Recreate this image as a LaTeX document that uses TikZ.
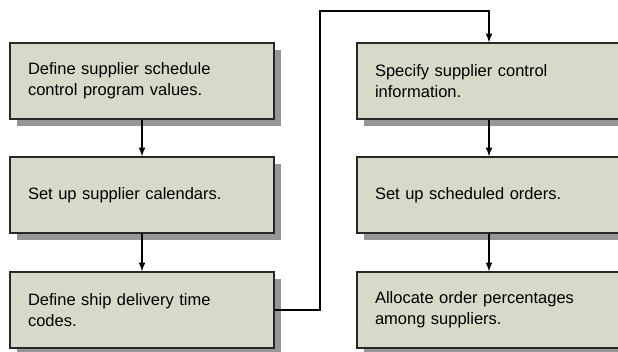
\documentclass[tikz,border=0pt]{standalone}
\usepackage{fontspec}
\setmainfont{Liberation Sans}
\usetikzlibrary{arrows,shadows}
\definecolor{boxfill}{RGB}{216,217,200}
\definecolor{boxline}{RGB}{40,40,40}
\definecolor{shade}{RGB}{150,150,150}
\tikzset{
  stepbox/.style={draw=boxline, line width=1.3pt, fill=boxfill,
    minimum width=264pt, minimum height=76pt, text width=228pt,
    inner xsep=18pt, align=left,
    font=\fontsize{16.5}{21}\selectfont,
    drop shadow={shadow xshift=7pt, shadow yshift=-7pt, fill=shade, opacity=1}},
  flow/.style={-latex, line width=2pt}
}
\begin{document}
\begin{tikzpicture}[x=1pt,y=-1pt]
    \useasboundingbox (0,0) rectangle (618,352);
    \node[stepbox] (values) at (142,81) {Define supplier schedule\\control program values.};
    \node[stepbox] (calendars) at (142,195) {Set up supplier calendars.};
    \node[stepbox] (codes) at (142,310) {Define ship delivery time\\codes.};
    \node[stepbox] (control) at (489,81) {Specify supplier control\\information.};
    \node[stepbox] (orders) at (489,195) {Set up scheduled orders.};
    \node[stepbox] (allocate) at (489,310) {Allocate order percentages\\among suppliers.};
    \coordinate (turn) at (320,11);
    \draw[flow] (values) -- (calendars);
    \draw[flow] (calendars) -- (codes);
    \draw[flow] (codes.east) -| (turn) -| (control.north);
    \draw[flow] (control) -- (orders);
    \draw[flow] (orders) -- (allocate);
\end{tikzpicture}
\end{document}
